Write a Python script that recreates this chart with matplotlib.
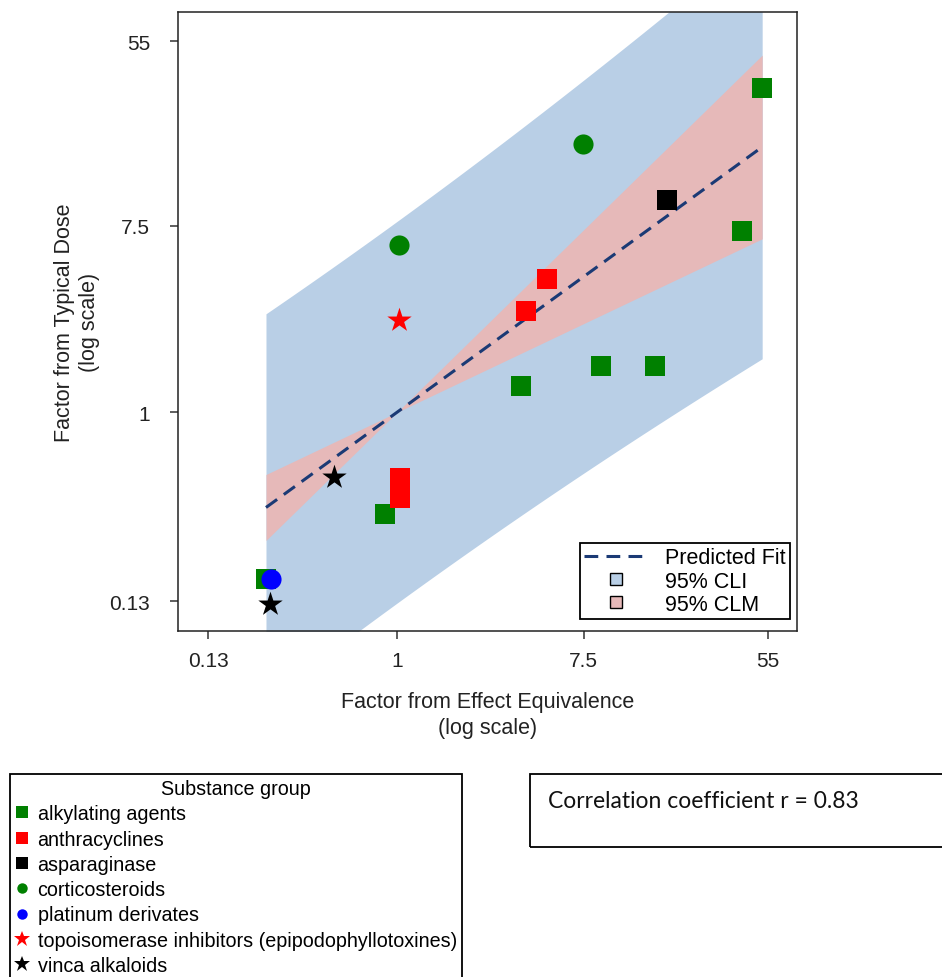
import numpy as np
import matplotlib
matplotlib.use("Agg")
import matplotlib.pyplot as plt
from matplotlib.lines import Line2D
from matplotlib.patches import Rectangle

plt.rcParams['font.family'] = ['Liberation Sans', 'DejaVu Sans']

# ---------------- data ----------------
groups = ["alkylating agents", "anthracyclines", "asparaginase", "corticosteroids",
          "platinum derivates", "topoisomerase inhibitors (epipodophyllotoxines)", "vinca alkaloids"]
group_colors = ["#008000", "#ff0000", "#000000", "#008000", "#0000ff", "#ff0000", "#000000"]
group_markers = ["s", "s", "s", "o", "o", "*", "*"]

alkylating_x = [51.5, 41.2, 9.05, 16.2, 3.82, 0.879, 0.243]
alkylating_y = [33.0, 7.05, 1.65, 1.65, 1.33, 0.333, 0.165]
anthracyclines_x = [5.05, 4.03, 1.03, 1.03]
anthracyclines_y = [4.21, 2.98, 0.493, 0.397]
asparaginase_x = [18.5]
asparaginase_y = [9.91]
corticosteroids_x = [1.02, 7.43]
corticosteroids_y = [6.08, 18.1]
platinum_x = [0.256]
platinum_y = [0.165]
topoisomerase_x = [1.02]
topoisomerase_y = [2.71]
vinca_x = [0.507, 0.255]
vinca_y = [0.496, 0.126]

series_x = [alkylating_x, anthracyclines_x, asparaginase_x, corticosteroids_x,
            platinum_x, topoisomerase_x, vinca_x]
series_y = [alkylating_y, anthracyclines_y, asparaginase_y, corticosteroids_y,
            platinum_y, topoisomerase_y, vinca_y]

tick_values = [0.13, 1, 7.5, 55]
tick_labels = ["0.13", "1", "7.5", "55"]
axis_limits = [0.094, 75]
t_crit = 2.1098  # t(0.975, df=17)
corr_text = "Correlation coefficient r = 0.83"

# ---------------- regression through origin on log scale ----------------
all_x = np.concatenate([np.asarray(v, float) for v in series_x])
all_y = np.concatenate([np.asarray(v, float) for v in series_y])
lx, ly = np.log10(all_x), np.log10(all_y)
n = len(lx)
sxx = np.sum(lx * lx)
b = np.sum(lx * ly) / sxx
sse = np.sum((ly - b * lx) ** 2)
s = np.sqrt(sse / (n - 1))

grid = np.linspace(lx.min(), lx.max(), 200)
fit = b * grid
w_clm = t_crit * s * np.abs(grid) / np.sqrt(sxx)
w_cli = t_crit * s * np.sqrt(1 + grid ** 2 / sxx)
gx = 10 ** grid

# ---------------- figure ----------------
fig = plt.figure(figsize=(9.42, 9.78), dpi=100)
ax = fig.add_axes([178 / 942, 1 - 632.3 / 978, 619 / 942, 619 / 978])

cli_color = "#b9cfe6"
clm_color = "#e6b9b9"
fit_color = "#1b3a75"

ax.fill_between(gx, 10 ** (fit - w_cli), 10 ** (fit + w_cli), color=cli_color, lw=0, zorder=1)
ax.fill_between(gx, 10 ** (fit - w_clm), 10 ** (fit + w_clm), color=clm_color, lw=0, zorder=2)
ax.plot(gx, 10 ** fit, color=fit_color, lw=2.2, dashes=(4.5, 2.7), zorder=3)

sizes = {"s": 210, "o": 210, "*": 340}
for xs, ys, c, m in zip(series_x, series_y, group_colors, group_markers):
    ax.scatter(xs, ys, s=sizes[m], c=c, marker=m, linewidths=0, zorder=4)

ax.set_xscale("log")
ax.set_yscale("log")
ax.set_xlim(axis_limits)
ax.set_ylim(axis_limits)
ax.set_xticks(tick_values)
ax.set_xticklabels(tick_labels)
ax.set_yticks(tick_values)
ax.set_yticklabels(tick_labels)
ax.minorticks_off()
ax.tick_params(axis="both", direction="out", length=6, width=1.1, color="#333333",
               labelsize=15, labelcolor="#222222")
ax.tick_params(axis="x", pad=8)
ax.tick_params(axis="y", pad=14)
for sp in ax.spines.values():
    sp.set_linewidth(1.1)
    sp.set_color("#222222")

ax.set_xlabel("Factor from Effect Equivalence\n(log scale)", fontsize=15.5, labelpad=15,
              linespacing=1.35, color="#222222")
ax.set_ylabel("Factor from Typical Dose\n(log scale)", fontsize=15.5, labelpad=7,
              linespacing=1.25, color="#222222")

# inner legend
fit_handles = [
    Line2D([], [], color=fit_color, lw=2.2, dashes=(4.5, 2.7)),
    Line2D([], [], ls="none", marker="s", markersize=9, markerfacecolor=cli_color,
           markeredgecolor="black", markeredgewidth=1.0),
    Line2D([], [], ls="none", marker="s", markersize=9, markerfacecolor=clm_color,
           markeredgecolor="black", markeredgewidth=1.0),
]
leg1 = ax.legend(fit_handles, ["Predicted Fit", "95% CLI", "95% CLM"],
                 loc="lower right", bbox_to_anchor=(790 / 942, 1 - 620 / 978),
                 bbox_transform=fig.transFigure, borderaxespad=0, fontsize=15.5,
                 handlelength=2.9, handletextpad=0.85, labelspacing=0.1,
                 borderpad=0.2, fancybox=False, framealpha=1, edgecolor="black")
leg1.get_frame().set_linewidth(1.3)

# group legend
msz = {"s": 8.5, "o": 7.5, "*": 12}
grp_handles = [Line2D([], [], ls="none", marker=m, markersize=msz[m], markerfacecolor=c,
                      markeredgewidth=0) for c, m in zip(group_colors, group_markers)]
leg2 = fig.legend(grp_handles, groups, loc="upper left",
                  bbox_to_anchor=(10 / 942, 1 - 775 / 978), borderaxespad=0,
                  title="Substance group", title_fontsize=14.2, fontsize=14.2,
                  handlelength=0.7, handletextpad=0.45, labelspacing=0.32,
                  borderpad=0.25, fancybox=False, framealpha=1, edgecolor="black")
leg2.get_frame().set_linewidth(1.3)

# correlation box
fig.add_artist(Rectangle((530 / 942, 1 - 848 / 978), 420 / 942, 73 / 978,
                         transform=fig.transFigure, fill=False, ec="black", lw=1.3,
                         clip_on=False))
fig.text(548 / 942, 1 - 802 / 978, corr_text, fontsize=16.5, va="center", ha="left",
         family=["Lato", "DejaVu Sans"], color="#111111")

fig.savefig("out.png", dpi=100)
